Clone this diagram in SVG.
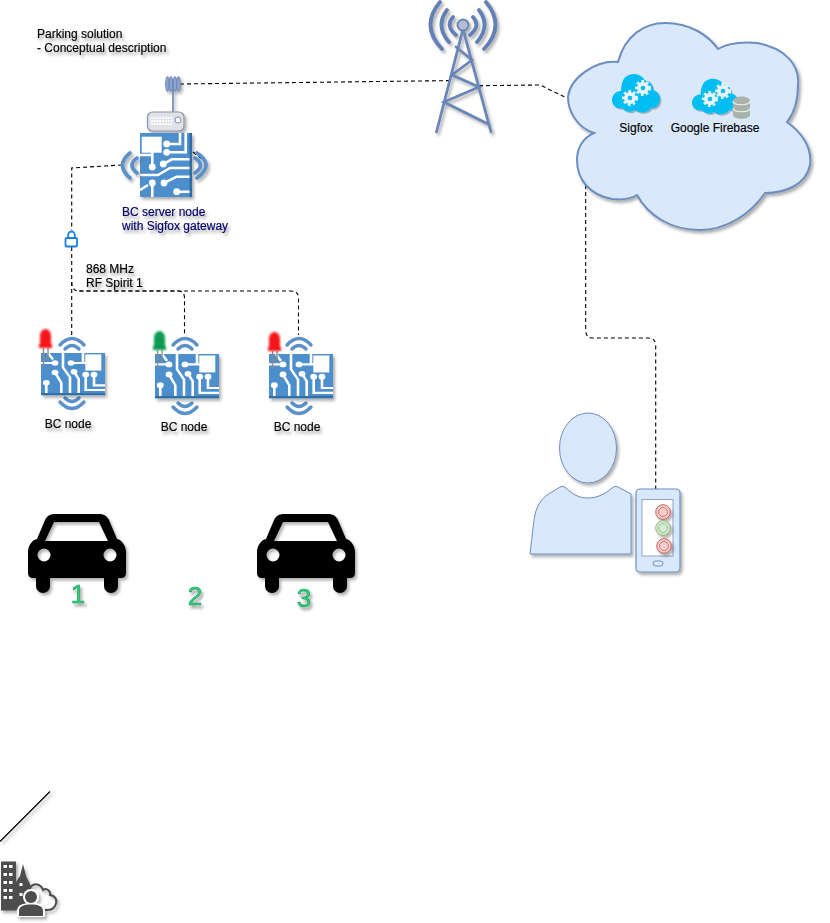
<svg xmlns="http://www.w3.org/2000/svg" width="830" height="923" viewBox="0 0 830 923">
<style>
text{font-family:"Liberation Sans",Arial,sans-serif;font-size:12px;fill:#000;stroke:#000;stroke-width:.15}
.ts{filter:url(#ts)}
.sh{filter:url(#sh)}
.conn{fill:none;stroke:#000;stroke-width:1.1;stroke-dasharray:4 3}
.wave{fill:none;stroke:#5b90c8;stroke-width:3.400;stroke-linecap:round}
.tr{fill:none;stroke:#fff;stroke-width:2.600}
.dot{fill:#fff}
.blue{fill:#dae8fc;stroke:#6c8ebf}
.tower{fill:none;stroke:#6b85b8;stroke-width:2.800;stroke-linecap:round}
.arc{fill:none;stroke:#6380b6;stroke-width:3.800;stroke-linecap:round}
text.num{font-size:26px;fill:#35d07f;stroke:#1c9a58;stroke-width:.6;text-anchor:middle}
.mid{text-anchor:middle}
.gear{fill:#eaf4f8;stroke:#eaf4f8;stroke-width:1}
.tooth{fill:none;stroke:#eaf4f8;stroke-width:3;stroke-dasharray:2.500 2.210}
.gh{fill:#00bef2}
.bld{fill:#4d4d4d}
.win{fill:#fff}
</style>
<defs>
<filter id="sh" x="-30%" y="-30%" width="170%" height="170%"><feDropShadow dx="2" dy="2.500" stdDeviation="1.600" flood-color="#000" flood-opacity=".32"/></filter>
<filter id="ts" x="-10%" y="-40%" width="125%" height="200%"><feDropShadow dx="2" dy="3" stdDeviation="1.700" flood-color="#000" flood-opacity=".38"/></filter>
<filter id="glow" x="-40%" y="-30%" width="180%" height="160%"><feGaussianBlur stdDeviation=".8"/></filter>
<g id="board">
<rect width="52" height="64" fill="#4e8fcc"/>
<rect x="49.500" width="2.500" height="64" fill="#2f6ea5"/>
<rect x="1.700" y="3.700" width="20" height="16" fill="#fff"/>
<path class="tr" d="M12.300 19V34M0 22H12M26.700 11H40V0M26.700 19.300H45.700V0M23.300 31L32 26.300H49.500M0 42H18L30 35H49.500M12.300 50V64M24 50L36.700 43.700H49.500M36.700 58.700H49.500M0 57L8 52"/>
<circle class="dot" cx="12.300" cy="34" r="3.400"/><circle class="dot" cx="26.700" cy="11" r="3.400"/><circle class="dot" cx="26.700" cy="19.300" r="3.400"/><circle class="dot" cx="23.300" cy="31" r="3.400"/><circle class="dot" cx="12.300" cy="50" r="3.400"/><circle class="dot" cx="24" cy="50" r="3.400"/><circle class="dot" cx="36.700" cy="58.700" r="3.400"/>
</g>
<g id="waveTop"><path class="wave" d="M-12 7Q0 -6 12 7M-7 11Q0 4 7 11"/></g>
<g id="waveBot"><path class="wave" d="M-12 -7Q0 6 12 -7M-7 -11Q0 -4 7 -11"/></g>
<g id="leads"><path d="M4.500 19V37M9 19V31" stroke="#8a8a8a" stroke-width="1.400" fill="none"/></g>
<path id="ledShape" d="M1 15V6.500A5.500 6.500 0 0 1 12 6.500V15H13V19H0V15Z"/>
<path id="car" fill-rule="evenodd" d="M27 0H71C76 0 79 2 81 6L89 25C94 26 98 32 98 38V59Q98 64 93 64H90V72A7 7 0 0 1 76 72V64H22V72A7 7 0 0 1 8 72V64H5Q0 64 0 59V38C0 32 4 26 9 25L17 6C19 2 22 0 27 0ZM26 8L17 27H80L71 8ZM16 34.500A6.500 6.500 0 1 0 16 47.500A6.500 6.500 0 1 0 16 34.500ZM82 34.500A6.500 6.500 0 1 0 82 47.500A6.500 6.500 0 1 0 82 34.500Z"/>
<path id="ccloud" d="M9 19C3 19 0 24 0 28C0 34 5 37 10 36C13 40 19 41 23 38C28 42 36 41 39 36C45 37 48 32 48 27C48 22 45 19 41 18C41 12 37 8 33 9C30 2 21 0 15 4C11 6 9 12 9 19Z"/>
<g id="gearA"><circle class="tooth" r="6.500"/><circle class="gear" r="5.500"/><circle r="2.300" fill="#00bef2"/></g>
</defs>

<g id="title" class="ts"><text x="37" y="38">Parking solution</text><text x="37" y="52">- Conceptual description</text></g>

<g id="connectors">
<path class="conn" d="M180 84L450 80.600"/>
<path class="conn" d="M479 85.700L540 85L567 98"/>
<path class="conn" d="M122 165L71.700 168V230"/>
<path class="conn" d="M71.700 247V340"/>
<path class="conn" d="M71.700 282Q71.700 291 79 291H178Q184.500 291 184.500 298V335"/>
<path class="conn" d="M79 291H291Q298.500 291 298.500 298V335"/>
<path class="conn" d="M193 152L209 165"/>
<path class="conn" d="M585.700 185V330Q585.700 338 593 338H648Q655.700 338 655.700 346V490"/>
</g>

<g id="tower" class="sh">
<path class="tower" d="M463 29L436.500 132M463 29L491 132M456 47L472 60L452 75L479 87L444 102L488 124"/>
<circle cx="463" cy="25" r="5.500" fill="#b4bfd6" stroke="#6b85b8" stroke-width="2"/>
<path class="arc" d="M440 2Q420 26 442 49M486 2Q506 26 484 49M447 10Q435 26 449 42M479 10Q491 26 477 42M453 17Q445 26 456 35M473 17Q481 26 470 35"/>
</g>

<g id="cloud">
<path class="blue sh" stroke-width="2" d="M618 62C625 35 645 23 665 23C690 23 708 35 718 49C730 42 745 42 757 43C785 48 800 65 798 85C798 100 795 112 787 122C802 133 812 148 810 165C806 185 785 193 765 193C750 215 725 230 700 230C670 230 648 215 637 195C628 200 620 200 612 199C590 195 577 180 577 160C577 148 583 138 594 133C578 128 568 112 568 97C570 78 595 60 618 62Z"/>
</g>

<g id="sigfox">
<use href="#ccloud" x="613.500" y="73.500" fill="#a8b4bd"/>
<use href="#ccloud" x="612" y="72" class="gh"/>
<use href="#gearA" x="630" y="98"/><use href="#gearA" x="643" y="88"/>
<text x="636" y="131.500" class="mid">Sigfox</text>
</g>
<g id="firebase">
<use href="#ccloud" transform="translate(693.500 78.500) scale(.96 .92)" fill="#a8b4bd"/>
<use href="#ccloud" transform="translate(692 77) scale(.96 .92)" class="gh"/>
<use href="#gearA" x="710" y="99"/><use href="#gearA" x="723" y="91"/>
<path d="M733 101C733 95 750 95 750 101V115C750 120 733 120 733 115Z" fill="#a9b2ab"/>
<path d="M733 101C733 106 750 106 750 101M733 108C733 113 750 113 750 108" fill="none" stroke="#eef0ee" stroke-width="1.200"/>
<text x="715" y="131.500" class="mid">Google Firebase</text>
</g>

<g id="server">
<g class="sh">
<path d="M173 83V113" stroke="#6b85b8" stroke-width="1.600"/>
<g fill="#8fa6cc" stroke="#6b85b8" stroke-width="1"><ellipse cx="167.500" cy="84" rx="1.800" ry="7.500"/><ellipse cx="171" cy="84" rx="1.800" ry="7.500"/><ellipse cx="175" cy="84" rx="1.800" ry="7.500"/><ellipse cx="178.500" cy="84" rx="1.800" ry="7.500"/></g>
<rect x="147.500" y="112" width="36.500" height="19" rx="5" fill="#e0e2e8" stroke="#8a94a8" stroke-width="1.200"/>
<path d="M151 118H173M151 121H173M151 124H173" stroke="#fff" stroke-width="1.800" stroke-dasharray="1.800 1"/>
<circle cx="178" cy="120" r="3" fill="#fff" stroke="#7d8cb4"/>
</g>
<use href="#board" x="140" y="133" class="sh"/>
<path class="wave sh" style="stroke-width:3.800" d="M130 153Q115 165 130 178M137 158Q127 165 137 173M197 153Q215 165 197 178M195 158Q206 165 195 173"/>
<g class="ts"><text x="122" y="216" style="fill:#000066;stroke:#000066">BC server node</text><text x="122" y="230" style="fill:#000066;stroke:#000066">with Sigfox gateway</text></g>
</g>

<g id="lock">
<path d="M68.200 238V235A3.300 3.500 0 0 1 74.800 235V238" fill="none" stroke="#1a7fe0" stroke-width="1.800"/>
<rect x="65.500" y="238" width="11.500" height="8.500" rx="1" fill="#fff" stroke="#1a7fe0" stroke-width="1.800"/>
</g>

<g id="rf-label" class="ts"><text x="86" y="273">868 MHz</text><text x="86" y="287">RF Spirit 1</text></g>

<g id="node1">
<use href="#waveTop" x="72" y="338"/><use href="#waveBot" x="72" y="409"/>
<g class="sh"><use href="#board" transform="matrix(0 .81 -1 0 105 353)"/></g>
<use href="#leads" x="39" y="329"/>
<use href="#ledShape" x="39" y="329" fill="#f5141e" filter="url(#glow)"/>
<text x="68" y="428" class="mid ts">BC node</text>
</g>
<g id="node2">
<use href="#waveTop" x="185" y="338"/><use href="#waveBot" x="185" y="414"/>
<g class="sh"><use href="#board" transform="matrix(0 .85 -1 0 219 354)"/></g>
<use href="#leads" x="153" y="331" opacity=".9"/>
<use href="#ledShape" x="153" y="331" fill="#0b9a52" filter="url(#glow)"/>
<text x="184" y="431" class="mid ts">BC node</text>
</g>
<g id="node3">
<use href="#waveTop" x="299" y="338"/><use href="#waveBot" x="299" y="414"/>
<g class="sh"><use href="#board" transform="matrix(0 .85 -1 0 333 354)"/></g>
<use href="#leads" x="268" y="332"/>
<use href="#ledShape" x="268" y="332" fill="#f5141e" filter="url(#glow)"/>
<text x="297" y="431" class="mid ts">BC node</text>
</g>

<g id="car1"><use href="#car" x="28" y="514" class="sh"/><text x="78" y="603" class="num ts">1</text></g>
<g id="slot2"><text x="195" y="605" class="num ts">2</text></g>
<g id="car3"><use href="#car" x="257" y="514" class="sh"/><text x="304" y="607" class="num ts">3</text></g>

<g id="user">
<g class="sh">
<ellipse class="blue" cx="588" cy="448" rx="28.500" ry="35"/>
<path class="blue" d="M530 554L534 520Q536 503 547 495L560 487Q563 485 566 488C574 496 581 498 588 498C596 498 604 495 612 488Q615 485 618 487L631 494V554Z"/>
</g>
<g class="sh">
<rect class="blue" x="636" y="489" width="44" height="83" rx="4" stroke-width="1.200"/>
<rect x="642" y="499.500" width="31" height="56.500" fill="#fff" stroke="#8ba5cf"/>
<rect class="blue" x="653" y="561" width="10" height="5" rx="2.500"/>
</g>
<g class="sh" fill="#f8cecc" stroke="#b85450" stroke-width=".9"><circle cx="663" cy="512" r="7.300"/><circle cx="664" cy="546" r="7.300"/><circle cx="663" cy="528" r="7.300" fill="#d5e8d4" stroke="#82b366"/></g>
<g fill="none" stroke="#b85450" stroke-width=".7"><circle cx="663" cy="512" r="4.500"/><circle cx="664" cy="546" r="4.500"/><circle cx="663" cy="528" r="4.500" stroke="#82b366"/></g>
</g>

<g id="slash"><line x1="0" y1="841.500" x2="50" y2="791.500" stroke="#000" stroke-width="1.200" class="sh"/></g>

<g id="corner-icon" class="sh">
<rect class="bld" x="1" y="861.500" width="15" height="49"/>
<path class="bld" d="M16 882L20 876L23 864L26 876L30 884L34 900L20 910H16Z"/>
<g class="win"><rect x="3.500" y="865" width="3.500" height="3"/><rect x="9" y="865" width="3.500" height="3"/><rect x="3.500" y="873" width="3.500" height="3"/><rect x="9" y="873" width="3.500" height="3"/><rect x="3.500" y="881" width="3.500" height="3"/><rect x="9" y="881" width="3.500" height="3"/><rect x="3.500" y="889" width="3.500" height="3"/><rect x="9" y="889" width="3.500" height="3"/><rect x="3.500" y="896" width="3.500" height="3"/><rect x="9" y="896" width="3.500" height="3"/><rect x="19.500" y="883" width="3" height="3"/><rect x="19.500" y="893" width="3" height="3"/></g>
<path d="M30 888C34 882 41 884 43 890C47 887 51 892 50 895C56 896 58 901 55 906C53 910 50 910 47 910H43" fill="none" stroke="#4d4d4d" stroke-width="2"/>
<circle cx="31" cy="897" r="8" fill="#fff"/>
<circle cx="31" cy="897" r="6" class="bld"/>
<path d="M17 917V911C17 905 23 903 31 903C39 903 45 905 45 911V917Z" fill="#fff"/>
<path class="bld" d="M19 916V911C19 906 24 904.500 31 904.500C38 904.500 43 906 43 911V916Z"/>
</g>
</svg>
